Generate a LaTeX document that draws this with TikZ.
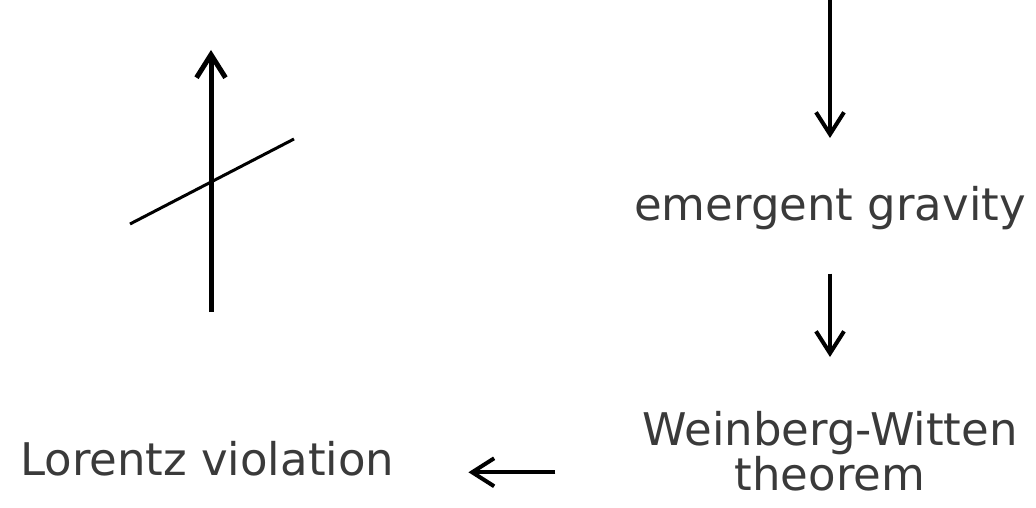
\documentclass[tikz,border=0pt]{standalone}
\usepackage{fontspec}
\setmainfont{DejaVu Sans}
\usetikzlibrary{arrows.meta}
\definecolor{inkgray}{HTML}{3A3A3A}
\tikzset{
  label text/.style={font=\fontsize{45}{45}\selectfont, text=inkgray, inner sep=0pt, align=center},
  flow/.style={line width=4pt, -{Straight Barb[length=22pt,width=28pt,line width=4pt]}},
  axis/.style={line width=5pt, -{Straight Barb[length=23pt,width=29pt,line width=5pt]}},
  slice/.style={line width=3pt}
}
\begin{document}
\begin{tikzpicture}[x=1pt,y=-1pt]
  \useasboundingbox (0,0) rectangle (1036,508);

  % spacetime sketch: time axis and a tilted slice
  \coordinate (axisfoot) at (211,312);
  \coordinate (axistip) at (211,50);
  \coordinate (sliceA) at (130,224);
  \coordinate (sliceB) at (294,139);
  \draw[slice] (sliceA) -- (sliceB);
  \draw[axis] (axisfoot) -- (axistip);

  % chain of implications
  \coordinate (entry) at (830,0);
  \node[label text, anchor=base] (eg) at (830,220) {emergent gravity};
  \node[label text, anchor=north] (ww) at (830,411) {Weinberg-Witten\\theorem};
  \node[label text, anchor=base west] (lv) at (20,475) {Lorentz violation};

  \draw[flow] (entry) -- ([yshift=-138pt]entry);
  \draw[flow] ([yshift=-44pt]eg.south) -- ([yshift=54pt]ww.north);
  \draw[flow] ([xshift=-87pt]ww.west |- lv.mid) -- ([xshift=74pt]lv.mid east);
\end{tikzpicture}
\end{document}
